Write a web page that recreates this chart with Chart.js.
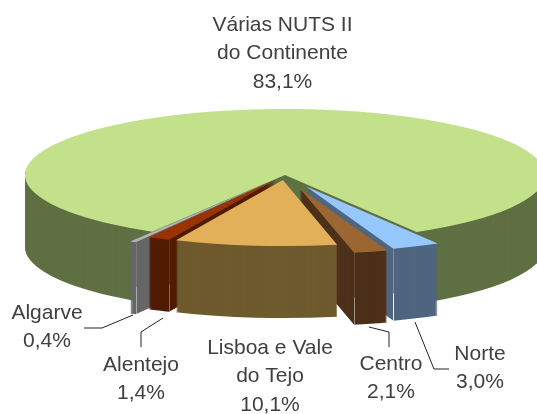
<!DOCTYPE html>
<html>
<head>
<meta charset="utf-8">
<style>
html, body { margin: 0; padding: 0; background: #fff; }
#wrap { width: 537px; height: 414px; }
</style>
<script src="https://cdn.jsdelivr.net/npm/chart.js@4/dist/chart.umd.min.js"></script>
</head>
<body>
<div id="wrap"><canvas id="grafico" width="537" height="414"></canvas></div>
<script>
const categorias = ["Norte", "Centro", "Lisboa e Vale do Tejo", "Alentejo", "Algarve", "Várias NUTS II do Continente"];
const valores = [3.0, 2.1, 10.1, 1.4, 0.4, 83.1];
const linhasRotulo = [["Norte"], ["Centro"], ["Lisboa e Vale", "do Tejo"], ["Alentejo"], ["Algarve"], ["Várias NUTS II", "do Continente"]];
const coresTopo = ["#96C8FF", "#9C6633", "#E3B05A", "#993300", "#B2B2B2", "#C3E08A"];
const coresLado = ["#50667F", "#4C301A", "#6F5A2E", "#4F1C00", "#666666", "#5F7043"];

// posicao dos rotulos e linhas de chamada, tudo em pixeis do canvas
const posRotulo = [[480, 354], [391, 364], [270, 348], [141, 365], [47, 313], [282.5, 25]];
const chamadas = [
    [[415, 322], [434, 369], [449, 369]],
    [[369, 327], [389, 332], [389, 347]],
    [],
    [[163, 318], [141, 332], [141, 347]],
    [[133, 315], [102, 328], [84, 328]],
    []
];

const pizza3d = {
    id: "pizza3d",
    beforeDatasetsDraw(chart, args, opts) {
        const ctx = chart.ctx;
        const arcos = chart.getDatasetMeta(0).data.map(function(arco, i) { return { arco: arco, i: i }; });
        // de tras para a frente
        arcos.sort(function(a, b) {
            return Math.sin((a.arco.startAngle + a.arco.endAngle) / 2) - Math.sin((b.arco.startAngle + b.arco.endAngle) / 2);
        });
        arcos.forEach(function(item) {
            const arco = item.arco;
            const meio = (arco.startAngle + arco.endAngle) / 2;
            const ex = opts.explosao[item.i];
            const original = arco.options;
            function desenha(dy, cor) {
                ctx.save();
                ctx.translate(arco.x, arco.y + dy);
                ctx.scale(1, opts.inclinacao);
                ctx.translate(-arco.x, -arco.y);
                ctx.translate(Math.cos(meio) * ex, Math.sin(meio) * ex);
                arco.options = Object.assign({}, original, { backgroundColor: cor });
                arco.draw(ctx);
                ctx.restore();
            }
            for (let d = opts.profundidade; d > 0; d--) desenha(d, coresLado[item.i]);
            desenha(0, coresTopo[item.i]);
            arco.options = original;

            // costura clara entre a parede exterior e a face de corte
            const alfa = opts.costura[item.i];
            if (alfa > 0) {
                const canto = Math.cos(meio) > 0 ? arco.endAngle : arco.startAngle;
                const x = Math.round(arco.x + Math.cos(meio) * ex + Math.cos(canto) * arco.outerRadius) + 0.5;
                const y = arco.y + (Math.sin(meio) * ex + Math.sin(canto) * arco.outerRadius) * opts.inclinacao;
                const meioParede = y + opts.profundidade * 0.62;
                ctx.save();
                ctx.lineWidth = 1;
                ctx.strokeStyle = "rgba(255,255,255," + (alfa * 0.3) + ")";
                ctx.beginPath(); ctx.moveTo(x, y); ctx.lineTo(x, meioParede); ctx.stroke();
                ctx.strokeStyle = "rgba(255,255,255," + alfa + ")";
                ctx.beginPath(); ctx.moveTo(x, meioParede); ctx.lineTo(x, y + opts.profundidade); ctx.stroke();
                ctx.restore();
            }
        });
        return false;
    },
    afterDraw(chart) {
        const ctx = chart.ctx;
        ctx.save();
        ctx.strokeStyle = "#222";
        ctx.lineWidth = 1;
        chamadas.forEach(function(linha) {
            if (!linha.length) return;
            ctx.beginPath();
            linha.forEach(function(p, k) { if (k === 0) ctx.moveTo(p[0], p[1]); else ctx.lineTo(p[0], p[1]); });
            ctx.stroke();
        });
        ctx.fillStyle = "#404040";
        ctx.font = '21px "Liberation Sans", Arial, sans-serif';
        ctx.textAlign = "center";
        ctx.textBaseline = "middle";
        categorias.forEach(function(nome, i) {
            const textos = linhasRotulo[i].concat(valores[i].toFixed(1).replace(".", ",") + "%");
            textos.forEach(function(t, k) { ctx.fillText(t, posRotulo[i][0], posRotulo[i][1] + k * 28.5); });
        });
        ctx.restore();
    }
};

new Chart(document.getElementById("grafico"), {
    type: "pie",
    data: { labels: categorias, datasets: [{ data: valores, backgroundColor: coresTopo, borderWidth: 0 }] },
    options: {
        responsive: false,
        animation: false,
        events: [],
        rotation: 149.6,
        radius: 260,
        layout: { padding: { left: 33, bottom: 64 } },
        plugins: {
            legend: { display: false },
            tooltip: { enabled: false },
            pizza3d: {
                inclinacao: 0.254,
                profundidade: 72,
                explosao: [50, 54, 20, 20, 44, 0],
                costura: [0.9, 0.45, 0, 0.35, 0.45, 0]
            }
        }
    },
    plugins: [pizza3d]
});
</script>
</body>
</html>
